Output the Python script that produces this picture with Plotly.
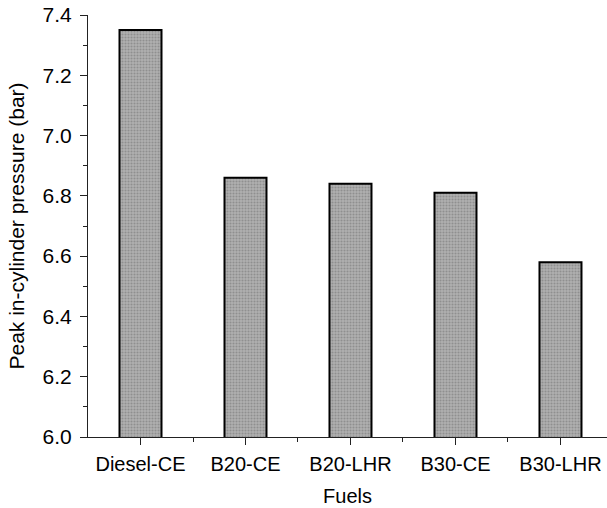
import plotly.graph_objects as go

fuels = ["Diesel-CE", "B20-CE", "B20-LHR", "B30-CE", "B30-LHR"]
peak_pressure = [7.35, 6.86, 6.84, 6.81, 6.58]
y_ticks = [6.0, 6.2, 6.4, 6.6, 6.8, 7.0, 7.2, 7.4]

fig = go.Figure()
fig.add_trace(go.Bar(
    x=list(range(len(fuels))),
    y=peak_pressure,
    base=0,
    width=0.4,
    marker=dict(
        color="#a0a0a0",
        line=dict(color="black", width=2),
        pattern=dict(shape=".", size=3, solidity=0.4, fgcolor="#6e6e6e", bgcolor="#b0b0b0"),
    ),
))

font = "Liberation Sans, Arial, sans-serif"
fig.update_layout(
    width=607, height=508,
    margin=dict(l=88, r=0, t=15, b=71),
    plot_bgcolor="white", paper_bgcolor="white",
    showlegend=False,
    font=dict(family=font, color="black", size=20),
    xaxis=dict(
        range=[-0.5, 4.443],
        tickmode="array",
        tickvals=list(range(len(fuels))),
        ticktext=fuels,
        ticks="outside", ticklen=7, tickwidth=1.2, tickcolor="#222",
        showline=True, linecolor="#222", linewidth=1.2,
        showgrid=False, zeroline=False,
        minor=dict(tickmode="array", tickvals=[0.5, 1.5, 2.5, 3.5], ticks="outside", ticklen=4, tickcolor="#222"),
        tickfont=dict(size=20),
        ticklabelstandoff=2,
        title=dict(text="Fuels", font=dict(size=20), standoff=14),
    ),
    yaxis=dict(
        range=[6.0, 7.4],
        tickmode="array",
        tickvals=y_ticks,
        ticktext=[f"{v:.1f}" for v in y_ticks],
        ticks="outside", ticklen=7, tickwidth=1.2, tickcolor="#222",
        showline=True, linecolor="#222", linewidth=1.2,
        showgrid=False, zeroline=False,
        minor=dict(dtick=0.1, ticks="outside", ticklen=4, tickcolor="#222"),
        tickfont=dict(size=21),
        ticklabelstandoff=4,
        title=dict(text="Peak in-cylinder pressure (bar)", font=dict(size=21), standoff=12),
    ),
)

fig.write_html(
    "out.html",
    config={"displayModeBar": False},
    post_script="document.body.style.margin='0';document.body.style.overflow='hidden';",
)
